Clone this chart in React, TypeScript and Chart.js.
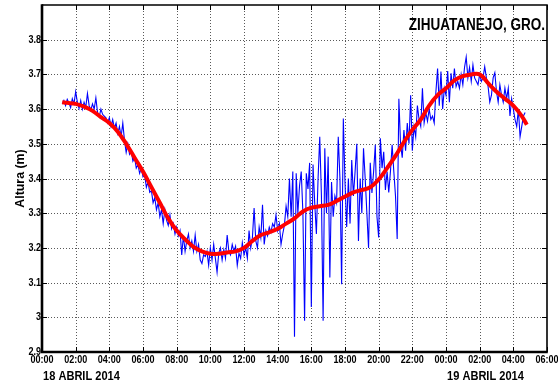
import React, { useEffect, useRef } from "react";
import { Chart, registerables } from "chart.js";

Chart.register(...registerables);

// ---------- data ----------
const xTickHours = [0, 2, 4, 6, 8, 10, 12, 14, 16, 18, 20, 22, 24, 26, 28, 30];
const yTickValues = [2.9, 3.0, 3.1, 3.2, 3.3, 3.4, 3.5, 3.6, 3.7, 3.8];
const yMin = 2.9;
const yMax = 3.9;

const titleText = "ZIHUATANEJO, GRO.";
const yTitleText = "Altura (m)";
const dateLabelHours = [0, 24];
const dateLabelTexts = ["18 ABRIL 2014", "19 ABRIL 2014"];

// observed sea level, sampled every 0.1 h starting at 01:12
const blueStartHour = 1.2;
const blueStepHour = 0.1;
const blueValues = [
  3.615, 3.625, 3.61, 3.628, 3.618, 3.604, 3.63, 3.615,
  3.65, 3.62, 3.602, 3.625, 3.6, 3.62, 3.605, 3.645, 3.61, 3.597,
  3.615, 3.6, 3.632, 3.59, 3.578, 3.6, 3.585, 3.58, 3.575, 3.56,
  3.575, 3.55, 3.57, 3.545, 3.56, 3.53, 3.55, 3.52, 3.56, 3.51,
  3.475, 3.5, 3.47, 3.48, 3.45, 3.46, 3.43, 3.44, 3.415, 3.43,
  3.405, 3.41, 3.375, 3.39, 3.36, 3.365, 3.33, 3.345, 3.31, 3.33,
  3.29, 3.31, 3.27, 3.31, 3.28, 3.265, 3.295, 3.255, 3.27, 3.24,
  3.26, 3.235, 3.25, 3.18, 3.235, 3.19, 3.22, 3.24, 3.2, 3.22,
  3.19, 3.237, 3.19, 3.21, 3.165, 3.155, 3.18, 3.175, 3.19, 3.15,
  3.2, 3.165, 3.21, 3.17, 3.13, 3.185, 3.2, 3.165, 3.195, 3.17,
  3.237, 3.19, 3.18, 3.21, 3.19, 3.205, 3.15, 3.185, 3.17, 3.215,
  3.18, 3.2, 3.17, 3.25, 3.2, 3.23, 3.315, 3.22, 3.2, 3.26,
  3.23, 3.324, 3.21, 3.25, 3.235, 3.26, 3.245, 3.27, 3.26, 3.295,
  3.25, 3.27, 3.21, 3.24, 3.265, 3.32, 3.29, 3.4, 3.29, 3.42,
  2.944, 3.415, 3.3, 3.38, 3.42, 3.3, 2.99, 3.415, 3.37, 3.445,
  3.03, 3.44, 3.33, 3.24, 3.4, 3.52, 3.35, 2.99, 3.487, 3.3,
  3.463, 3.115, 3.39, 3.29, 3.35, 3.33, 3.52, 3.4, 3.095, 3.573,
  3.39, 3.26, 3.4, 3.27, 3.453, 3.35, 3.42, 3.5, 3.22, 3.4,
  3.3, 3.487, 3.4, 3.3, 3.2, 3.445, 3.358, 3.42, 3.497, 3.29,
  3.23, 3.516, 3.43, 3.477, 3.367, 3.42, 3.36, 3.42, 3.497, 3.42,
  3.35, 3.226, 3.63, 3.5, 3.46, 3.54, 3.48, 3.56, 3.5, 3.64,
  3.48, 3.55, 3.52, 3.61, 3.57, 3.55, 3.66, 3.56, 3.59, 3.565,
  3.6, 3.57, 3.58, 3.56, 3.65, 3.717, 3.61, 3.708, 3.6, 3.66,
  3.64, 3.71, 3.62, 3.703, 3.66, 3.717, 3.665, 3.68, 3.66, 3.7,
  3.67, 3.72, 3.75, 3.69, 3.72, 3.68, 3.727, 3.69, 3.68, 3.67,
  3.7, 3.68, 3.69, 3.722, 3.69, 3.665, 3.62, 3.64, 3.69, 3.705,
  3.65, 3.62, 3.67, 3.64, 3.62, 3.66, 3.63, 3.66, 3.58, 3.63,
  3.6, 3.57, 3.55, 3.6, 3.52, 3.55, 3.58, 3.59,
];

// filtered (smoothed) sea level
const redHours = [
  1.2, 1.5, 2.0, 2.5, 3.0, 3.5, 4.0, 4.5, 5.0, 5.5, 6.0, 6.5, 7.0, 7.5, 8.0, 8.5,
  9.0, 9.5, 10.0, 10.5, 11.0, 11.5, 12.0, 12.5, 13.0, 13.5, 14.0, 14.5, 15.0, 15.5,
  16.0, 16.5, 17.0, 17.5, 18.0, 18.5, 19.0, 19.5, 20.0, 20.5, 21.0, 21.5, 22.0, 22.5,
  23.0, 23.5, 24.0, 24.5, 25.0, 25.5, 26.0, 26.5, 27.0, 27.5, 28.0, 28.5, 28.8,
];
const redValues = [
  3.62, 3.618, 3.615, 3.607, 3.595, 3.577, 3.56, 3.535, 3.5, 3.46, 3.42, 3.375, 3.33, 3.285, 3.25, 3.225,
  3.203, 3.19, 3.183, 3.183, 3.187, 3.19, 3.2, 3.22, 3.237, 3.245, 3.255, 3.27, 3.285, 3.305,
  3.316, 3.32, 3.324, 3.335, 3.348, 3.36, 3.367, 3.375, 3.397, 3.43, 3.465, 3.505, 3.54, 3.57,
  3.61, 3.64, 3.66, 3.683, 3.695, 3.7, 3.7, 3.675, 3.65, 3.63, 3.61, 3.58, 3.555,
];

// ---------- helpers ----------
const FONT = '"Liberation Sans", Arial, Helvetica, sans-serif';
const NARROW = 0.82;

function drawText(
  ctx: CanvasRenderingContext2D,
  s: string,
  x: number,
  y: number,
  size: number,
  align: CanvasTextAlign,
  baseline: CanvasTextBaseline,
  sx: number = NARROW,
  rot: number = 0
) {
  ctx.save();
  ctx.font = `bold ${size}px ${FONT}`;
  ctx.fillStyle = "#000";
  ctx.textAlign = align;
  ctx.textBaseline = baseline;
  ctx.translate(x, y);
  if (rot) ctx.rotate(rot);
  ctx.scale(sx, 1);
  ctx.fillText(s, 0, 0);
  ctx.restore();
}

function hourLabel(h: number): string {
  const hh = ((h % 24) + 24) % 24;
  return (hh < 10 ? "0" : "") + hh + ":00";
}

function valueLabel(v: number): string {
  return String(Math.round(v * 10) / 10);
}

const decorPlugin = {
  id: "decor",
  beforeDatasetsDraw(chart: any) {
    const ctx: CanvasRenderingContext2D = chart.ctx;
    const { left, right, top, bottom } = chart.chartArea;
    const xs = chart.scales.x;
    const ys = chart.scales.y;
    ctx.save();
    ctx.strokeStyle = "rgba(60,60,60,0.85)";
    ctx.lineWidth = 1;
    ctx.setLineDash([1, 2]);
    xTickHours.forEach((h) => {
      const px = Math.round(xs.getPixelForValue(h)) + 0.5;
      if (px <= left + 2 || px >= right - 2) return;
      ctx.beginPath();
      ctx.moveTo(px, top);
      ctx.lineTo(px, bottom);
      ctx.stroke();
    });
    yTickValues.forEach((v) => {
      const py = Math.round(ys.getPixelForValue(v)) + 0.5;
      if (py <= top + 2 || py >= bottom - 2) return;
      ctx.beginPath();
      ctx.moveTo(left, py);
      ctx.lineTo(right, py);
      ctx.stroke();
    });
    ctx.restore();
  },
  afterDatasetsDraw(chart: any) {
    const ctx: CanvasRenderingContext2D = chart.ctx;
    const { left, right, top, bottom } = chart.chartArea;
    const xs = chart.scales.x;
    const ys = chart.scales.y;
    ctx.save();
    ctx.setLineDash([]);
    ctx.strokeStyle = "#000";
    // inner ticks
    ctx.lineWidth = 1;
    xTickHours.forEach((h) => {
      const px = Math.round(xs.getPixelForValue(h)) + 0.5;
      ctx.beginPath();
      ctx.moveTo(px, top);
      ctx.lineTo(px, top + 5);
      ctx.moveTo(px, bottom);
      ctx.lineTo(px, bottom - 5);
      ctx.stroke();
    });
    yTickValues.forEach((v) => {
      const py = Math.round(ys.getPixelForValue(v)) + 0.5;
      ctx.beginPath();
      ctx.moveTo(left, py);
      ctx.lineTo(left + 5, py);
      ctx.moveTo(right, py);
      ctx.lineTo(right - 5, py);
      ctx.stroke();
    });
    // frame
    ctx.lineWidth = 1.6;
    ctx.beginPath();
    ctx.moveTo(left, top);
    ctx.lineTo(right, top);
    ctx.lineTo(right, bottom);
    ctx.stroke();
    ctx.lineWidth = 2.6;
    ctx.beginPath();
    ctx.moveTo(left, top - 0.8);
    ctx.lineTo(left, bottom);
    ctx.lineTo(right + 0.8, bottom);
    ctx.stroke();
    ctx.restore();

    // tick labels
    yTickValues.forEach((v) => {
      const py = ys.getPixelForValue(v);
      drawText(ctx, valueLabel(v), left - 1, py, 11, "right", "middle");
    });
    xTickHours.forEach((h) => {
      const px = xs.getPixelForValue(h);
      drawText(ctx, hourLabel(h), px, bottom + 2, 11, "center", "top");
    });
    // date labels
    dateLabelHours.forEach((h, i) => {
      const px = xs.getPixelForValue(h);
      drawText(ctx, dateLabelTexts[i], px + 1, bottom + 28, 13.5, "left", "alphabetic");
    });
    // axis title
    drawText(ctx, yTitleText, 20, (top + bottom) / 2, 13, "center", "middle", 0.95, -Math.PI / 2);
    // plot title
    drawText(ctx, titleText, right - 2, top + 25, 16.5, "right", "alphabetic");
  },
};

export default function App() {
  const canvasRef = useRef<HTMLCanvasElement | null>(null);

  useEffect(() => {
    document.body.style.margin = "0";
    const canvas = canvasRef.current;
    if (!canvas) return;

    const blueData = blueValues.map((v, i) => ({ x: blueStartHour + i * blueStepHour, y: v }));
    const redData = redValues.map((v, i) => ({ x: redHours[i], y: v }));

    const chart = new Chart(canvas, {
      type: "line",
      data: {
        datasets: [
          {
            label: "filtrado",
            data: redData,
            borderColor: "#ff0000",
            borderWidth: 4,
            pointRadius: 0,
            tension: 0.4,
            fill: false,
            order: 0,
          } as any,
          {
            label: "nivel",
            data: blueData,
            borderColor: "#0000ff",
            borderWidth: 1.1,
            pointRadius: 0,
            tension: 0,
            fill: false,
            order: 1,
          } as any,
        ],
      },
      options: {
        animation: false,
        responsive: false,
        maintainAspectRatio: false,
        devicePixelRatio: 1,
        layout: { padding: { top: 5, right: 11, left: 0, bottom: 0 } },
        plugins: {
          legend: { display: false },
          tooltip: { enabled: false },
          title: { display: false },
        },
        scales: {
          x: {
            type: "linear",
            min: 0,
            max: 30,
            ticks: { display: false, stepSize: 2 },
            grid: { display: false, drawTicks: false },
            border: { display: false },
            afterFit: (s: any) => {
              s.height = 34;
            },
          },
          y: {
            type: "linear",
            min: yMin,
            max: yMax,
            ticks: { display: false, stepSize: 0.1 },
            grid: { display: false, drawTicks: false },
            border: { display: false },
            afterFit: (s: any) => {
              s.width = 42;
            },
          },
        },
      } as any,
      plugins: [decorPlugin],
    });

    return () => chart.destroy();
  }, []);

  return (
    <div style={{ width: 558, height: 386, background: "#fff" }}>
      <canvas ref={canvasRef} width={558} height={386} style={{ display: "block" }} />
    </div>
  );
}
